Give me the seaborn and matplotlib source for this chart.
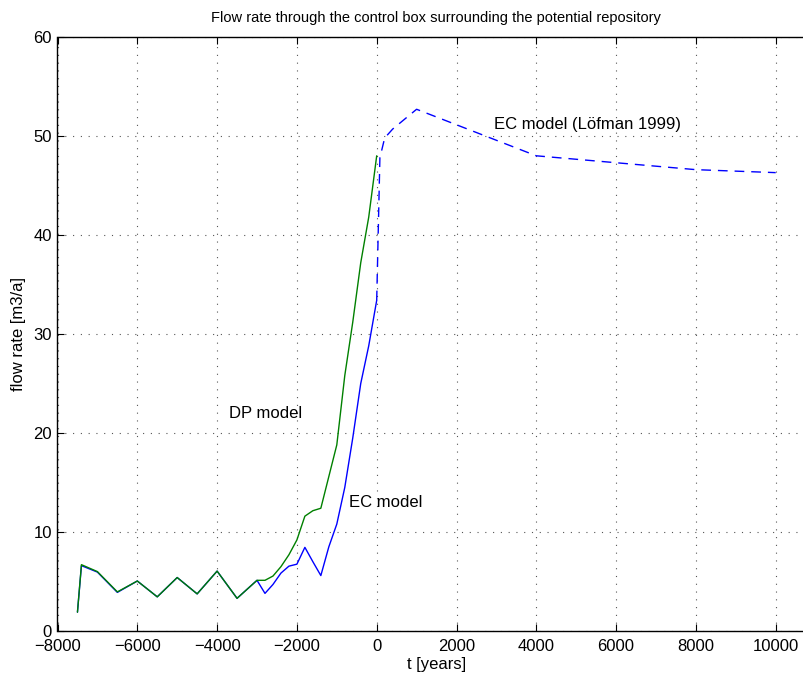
import matplotlib
matplotlib.use("Agg")
import matplotlib.pyplot as plt
from matplotlib import font_manager
import seaborn as sns

# DP model (dual porosity), years relative to present
dp_t = [-7500, -7400, -7000, -6500, -6000, -5500, -5000, -4500, -4000, -3500,
        -3000, -2800, -2600, -2400, -2200, -2000, -1800, -1600, -1400, -1200,
        -1000, -800, -600, -400, -200, 0]
dp_q = [1.9, 6.7, 6.0, 3.95, 5.05, 3.45, 5.4, 3.75, 6.05, 3.3,
        5.12, 5.12, 5.55, 6.5, 7.7, 9.2, 11.6, 12.15, 12.4, 15.6,
        18.8, 25.8, 31.2, 37.2, 41.8, 48.0]

# EC model (equivalent continuum)
ec_t = [-7500, -7400, -7000, -6500, -6000, -5500, -5000, -4500, -4000, -3500,
        -3000, -2800, -2600, -2400, -2200, -2000, -1800, -1600, -1400, -1200,
        -1000, -800, -600, -400, -200, 0]
ec_q = [1.9, 6.6, 5.95, 3.9, 5.05, 3.45, 5.4, 3.75, 6.05, 3.3,
        5.12, 3.8, 4.7, 5.85, 6.55, 6.75, 8.45, 7.0, 5.6, 8.5,
        10.8, 14.5, 19.5, 25.0, 28.8, 33.4]

# EC model continuation after Löfman (1999)
lof_t = [0, 80, 200, 400, 1000, 4000, 6000, 8000, 10000]
lof_q = [33.4, 47.8, 49.8, 50.7, 52.7, 48.0, 47.3, 46.6, 46.3]

x_ticks = [-8000, -6000, -4000, -2000, 0, 2000, 4000, 6000, 8000, 10000]
y_ticks = [0, 10, 20, 30, 40, 50, 60]

TITLE = "Flow rate through the control box surrounding the potential repository"

sns.set_style("ticks")
plt.rcParams["font.family"] = ["Liberation Sans", "DejaVu Sans"]
plt.rcParams["text.color"] = "black"
plt.rcParams["axes.labelcolor"] = "black"
plt.rcParams["xtick.direction"] = "in"
plt.rcParams["ytick.direction"] = "in"

FS = 12

# a narrower face for the title when one is installed
names = {f.name for f in font_manager.fontManager.ttflist}
if "Liberation Sans Narrow" in names:
    title_font = dict(family=["Liberation Sans Narrow", "DejaVu Sans"],
                      fontsize=12.6)
else:
    title_font = dict(family=["Liberation Sans", "DejaVu Sans"],
                      fontsize=10.5)

fig = plt.figure(figsize=(8.04, 6.77), dpi=100)
ax = fig.add_axes([57.5 / 804, 46 / 677, 798 / 804, 594 / 677])

blue = (0, 0, 1)
green = (0, 0.5, 0)

sns.lineplot(x=ec_t, y=ec_q, ax=ax, color=blue, lw=1.0, sort=False,
             estimator=None)
sns.lineplot(x=lof_t, y=lof_q, ax=ax, color=blue, lw=1.0, sort=False,
             estimator=None, dashes=False, linestyle=(0, (7, 5)))
sns.lineplot(x=dp_t, y=dp_q, ax=ax, color=green, lw=1.0, sort=False,
             estimator=None)

ax.set_xlim(-8000, 12000)
ax.set_ylim(0, 60)
ax.set_xticks(x_ticks)
ax.set_yticks(y_ticks)
ax.tick_params(axis="both", labelsize=FS, length=5, width=0.8,
               top=True, right=True, color="black", labelcolor="black")
ax.tick_params(axis="x", pad=5.5)
ax.tick_params(axis="y", pad=4)
ax.grid(True, linestyle=(0, (1, 6)), color="#555555", lw=0.8)
for s in ax.spines.values():
    s.set_linewidth(1.0)
    s.set_color("black")

ax.set_xlabel("")
ax.set_ylabel("flow rate [m3/a]", fontsize=FS, labelpad=5)

ax.text(-3700, 22.0, "DP model", fontsize=FS, va="center", ha="left")
ax.text(-690, 13.0, "EC model", fontsize=FS, va="center", ha="left")
ax.text(2950, 51.2, "EC model (Löfman 1999)", fontsize=FS, va="center",
        ha="left")

fig.text(436 / 804, 1 - 18 / 677, TITLE, ha="center", va="center",
         **title_font)
fig.text(437 / 804, 1 - 665 / 677, "t [years]", fontsize=FS,
         ha="center", va="center")

fig.savefig("out.png", dpi=100)
